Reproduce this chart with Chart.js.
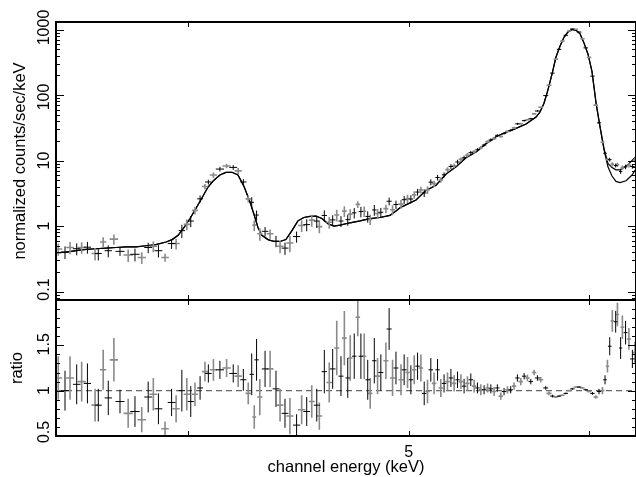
<!DOCTYPE html>
<html>
<head>
<meta charset="utf-8">
<script src="https://cdn.jsdelivr.net/npm/chart.js@4.4.0/dist/chart.umd.min.js"></script>
<style>
  html, body { margin: 0; padding: 0; background: #fff; }
  #wrap { position: relative; width: 636px; height: 477px; }
  #wrap canvas { position: absolute; left: 0; top: 0; }
</style>
</head>
<body>
<div id="wrap">
  <canvas id="spec" width="636" height="477"></canvas>
  <canvas id="ratio" width="636" height="477"></canvas>
</div>
<script>
// --- model curves (keV grid, counts/sec/keV) ---
const modelE = [3.500, 3.536, 3.572, 3.608, 3.644, 3.682, 3.719, 3.757, 3.795, 3.834,
  3.872, 3.912, 3.936, 3.960, 3.984, 4.008, 4.032, 4.057, 4.081, 4.106,
  4.131, 4.156, 4.182, 4.207, 4.233, 4.259, 4.276, 4.293, 4.310, 4.337,
  4.363, 4.390, 4.416, 4.443, 4.470, 4.497, 4.525, 4.552, 4.580, 4.608,
  4.636, 4.664, 4.712, 4.760, 4.808, 4.857, 4.906, 4.936, 4.956, 4.986,
  5.037, 5.088, 5.140, 5.192, 5.245, 5.298, 5.352, 5.406, 5.461, 5.517,
  5.573, 5.630, 5.687, 5.710, 5.733, 5.756, 5.780, 5.803, 5.827, 5.850,
  5.874, 5.898, 5.922, 5.946, 5.970, 5.994, 6.018, 6.043, 6.067, 6.092,
  6.116, 6.141, 6.166, 6.191, 6.229, 6.267, 6.292];
const modelA = [0.39, 0.40, 0.42, 0.44, 0.45, 0.46, 0.47, 0.48, 0.48, 0.50,
  0.52, 0.57, 0.62, 0.72, 0.95, 1.3, 1.85, 2.7, 3.9, 5.0,
  6.0, 6.6, 6.6, 6.0, 4.0, 2.3, 1.5, 0.95, 0.72, 0.62,
  0.58, 0.58, 0.62, 0.85, 1.2, 1.35, 1.4, 1.42, 1.3, 1.08,
  1.0, 1.03, 1.12, 1.2, 1.3, 1.35, 1.45, 1.7, 1.9, 2.1,
  2.5, 3.5, 4.2, 6.2, 8.0, 11, 13.5, 18, 23, 27,
  31, 36, 46, 55, 75, 120, 210, 380, 560, 760,
  920, 1000, 970, 860, 620, 420, 230, 75, 33, 14.5,
  8.0, 5.8, 4.8, 4.6, 4.9, 6.0, 7.5];
const modelB = [0.39, 0.40, 0.42, 0.44, 0.45, 0.46, 0.47, 0.48, 0.48, 0.50,
  0.52, 0.57, 0.62, 0.72, 0.95, 1.3, 1.85, 2.7, 3.9, 5.0,
  6.0, 6.6, 6.6, 6.0, 4.0, 2.3, 1.5, 0.95, 0.72, 0.62,
  0.58, 0.58, 0.62, 0.85, 1.2, 1.35, 1.4, 1.42, 1.3, 1.08,
  1.0, 1.03, 1.12, 1.2, 1.3, 1.35, 1.45, 1.7, 1.9, 2.1,
  2.5, 3.5, 4.2, 6.2, 8.0, 11, 13.5, 18, 23, 27,
  31, 36, 46, 55, 75, 120, 210, 380, 560, 760,
  920, 1000, 970, 860, 620, 420, 230, 75, 33, 15,
  9.0, 7.8, 7.2, 7.2, 8.2, 10, 11.5];

// --- black data group ---
const eBlack = [3.532, 3.574, 3.613, 3.653, 3.690, 3.734, 3.791, 3.842, 3.882, 3.934,
  3.975, 4.011, 4.049, 4.083, 4.131, 4.187, 4.230, 4.266, 4.287, 4.324,
  4.372, 4.412, 4.464, 4.510, 4.556, 4.591, 4.630, 4.669, 4.701, 4.732,
  4.764, 4.797, 4.829, 4.861, 4.902, 4.936, 4.977, 5.011, 5.045, 5.079,
  5.113, 5.148, 5.182, 5.218, 5.253, 5.288, 5.324, 5.360, 5.396, 5.433,
  5.469, 5.506, 5.543, 5.581, 5.619, 5.657, 5.695, 5.743, 5.782, 5.821,
  5.861, 5.900, 5.940, 5.980, 6.021, 6.061, 6.098, 6.127, 6.164, 6.195,
  6.226, 6.269];
const yBlack = [0.40, 0.45, 0.475, 0.38, 0.42, 0.41, 0.37, 0.47, 0.42, 0.54,
  0.85, 1.19, 2.6, 4.7, 7.4, 7.85, 4.7, 2.3, 1.47, 0.83,
  0.59, 0.46, 0.69, 1.05, 1.19, 1.45, 1.24, 1.19, 1.25, 1.59,
  1.66, 1.40, 1.76, 1.62, 2.39, 2.13, 2.52, 2.58, 3.3, 3.2,
  4.67, 5.5, 6.05, 8.1, 9.5, 11.0, 13.2, 14.6, 17.2, 20.6,
  24.2, 25.9, 28.8, 36.3, 40.6, 43.5, 57, 98, 216, 498,
  815, 1020, 915, 525, 194, 37.6, 12.9, 10.3, 8.4, 6.8,
  8.0, 8.1];
const rBlack = [1.00, 1.07, 1.08, 0.84, 0.92, 0.88, 0.77, 0.93, 0.80, 0.87,
  1.00, 0.88, 1.03, 1.19, 1.23, 1.19, 1.12, 1.18, 1.34, 1.24,
  1.02, 0.75, 0.62, 0.77, 0.84, 1.21, 1.24, 1.16, 1.14, 1.38,
  1.38, 1.12, 1.33, 1.20, 1.68, 1.25, 1.23, 1.12, 1.27, 0.97,
  1.23, 1.23, 1.08, 1.14, 1.12, 1.05, 1.12, 1.03, 1.01, 1.02,
  1.03, 0.99, 1.01, 1.14, 1.16, 1.10, 1.14, 1.03, 0.94, 0.94,
  0.97, 1.02, 1.04, 1.01, 0.97, 0.99, 1.12, 1.49, 1.76, 1.47,
  1.64, 1.35];
const erBlack = [0.22, 0.22, 0.22, 0.18, 0.19, 0.13, 0.17, 0.17, 0.17, 0.15,
  0.23, 0.17, 0.13, 0.10, 0.10, 0.10, 0.12, 0.23, 0.23, 0.20,
  0.20, 0.16, 0.12, 0.16, 0.18, 0.24, 0.22, 0.22, 0.22, 0.25,
  0.25, 0.22, 0.25, 0.20, 0.23, 0.18, 0.17, 0.16, 0.15, 0.13,
  0.13, 0.12, 0.10, 0.10, 0.09, 0.08, 0.07, 0.06, 0.05, 0.05,
  0.04, 0.04, 0.04, 0.04, 0.035, 0.03, 0.03, 0.02, 0.015, 0.01,
  0.01, 0.01, 0.01, 0.01, 0.015, 0.03, 0.05, 0.10, 0.12, 0.12,
  0.13, 0.10];

// --- gray data group ---
const eGray = [3.508, 3.550, 3.592, 3.641, 3.671, 3.711, 3.765, 3.817, 3.862, 3.908,
  3.952, 3.995, 4.028, 4.069, 4.104, 4.159, 4.208, 4.251, 4.277, 4.301,
  4.346, 4.390, 4.434, 4.487, 4.533, 4.568, 4.614, 4.649, 4.685, 4.713,
  4.749, 4.780, 4.809, 4.845, 4.886, 4.919, 4.961, 4.994, 5.028, 5.062,
  5.096, 5.130, 5.165, 5.200, 5.235, 5.271, 5.306, 5.342, 5.378, 5.415,
  5.451, 5.488, 5.525, 5.562, 5.600, 5.638, 5.676, 5.714, 5.762, 5.802,
  5.841, 5.880, 5.920, 5.960, 6.000, 6.041, 6.082, 6.113, 6.143, 6.175,
  6.206, 6.247, 6.285];
const yGray = [0.445, 0.47, 0.47, 0.38, 0.57, 0.63, 0.36, 0.33, 0.49, 0.33,
  0.54, 1.06, 1.73, 4.0, 6.0, 8.25, 6.95, 2.6, 1.03, 0.76,
  0.76, 0.49, 0.55, 1.02, 1.23, 0.98, 1.14, 1.47, 1.69, 1.52,
  2.14, 1.68, 1.26, 1.55, 1.84, 1.77, 2.16, 2.62, 2.99, 3.56,
  3.56, 4.43, 5.05, 7.26, 8.3, 10.4, 12.1, 13.6, 15.7, 19.4,
  21.6, 23.3, 27.8, 31.5, 36.5, 42, 51.6, 65, 141, 353,
  665, 950, 1009, 721, 376, 70, 19, 10.4, 8.8, 8.6,
  7.8, 8.5, 10.2];
const rGray = [1.14, 1.14, 1.10, 0.84, 1.23, 1.34, 0.75, 0.68, 0.96, 0.58,
  0.80, 0.96, 0.96, 1.21, 1.23, 1.25, 1.16, 0.97, 0.71, 0.93,
  1.24, 0.84, 0.72, 0.79, 0.88, 0.72, 1.09, 1.47, 1.58, 1.36,
  1.81, 1.38, 0.97, 1.16, 1.33, 1.14, 1.12, 1.20, 1.23, 1.25,
  0.99, 1.08, 1.03, 1.10, 1.08, 1.10, 1.08, 1.05, 1.01, 1.03,
  0.99, 0.94, 1.01, 1.05, 1.10, 1.14, 1.20, 1.12, 0.97, 0.93,
  0.95, 1.00, 1.04, 1.03, 0.99, 0.93, 1.00, 1.27, 1.77, 1.84,
  1.70, 1.57, 1.42];
const erGray = [0.24, 0.24, 0.22, 0.18, 0.22, 0.24, 0.16, 0.14, 0.18, 0.08,
  0.15, 0.18, 0.13, 0.11, 0.12, 0.10, 0.12, 0.12, 0.13, 0.20,
  0.20, 0.18, 0.20, 0.16, 0.18, 0.15, 0.22, 0.30, 0.30, 0.25,
  0.21, 0.25, 0.17, 0.20, 0.20, 0.20, 0.17, 0.17, 0.16, 0.15,
  0.13, 0.12, 0.10, 0.10, 0.09, 0.08, 0.08, 0.07, 0.06, 0.05,
  0.05, 0.04, 0.04, 0.04, 0.04, 0.035, 0.03, 0.03, 0.02, 0.01,
  0.01, 0.01, 0.01, 0.01, 0.01, 0.02, 0.04, 0.07, 0.12, 0.13,
  0.13, 0.12, 0.12];

// axis ranges / ticks
const E_MIN = 3.5, E_MAX = 6.292;
const xTickVals = [4, 5, 6];
const xTickLabels = [[5, '5']];
const specLabels = [[1000, '1000', -2], [100, '100', 2], [10, '10', 0], [1, '1', 0], [0.1, '0.1', -2]];
const ratioLabels = [[1.5, '1.5', -1], [1, '1', 0], [0.5, '0.5', -4]];

const TICK_FONT = '16px "Liberation Sans", Arial, sans-serif';
const TITLE_FONT = '16.5px "Liberation Sans", Arial, sans-serif';
const GRAY = '#8a8a8a';

// horizontal half-width of each channel bin, from its neighbours
function halfWidths(e) {
  return e.map((v, i) => {
    const lo = i > 0 ? e[i - 1] : 2 * v - e[i + 1];
    const hi = i < e.length - 1 ? e[i + 1] : 2 * v - e[i - 1];
    return (hi - lo) / 6;
  });
}

function rotText(ctx, text, x, y, font) {
  ctx.save();
  ctx.font = font;
  ctx.translate(x, y);
  ctx.rotate(-Math.PI / 2);
  ctx.textAlign = 'center';
  ctx.textBaseline = 'alphabetic';
  ctx.fillText(text, 0, 0);
  ctx.restore();
}

const errorBars = {
  id: 'errorBars',
  afterDatasetsDraw(chart, args, opts) {
    const { ctx, chartArea: a, scales: { x, y } } = chart;
    ctx.save();
    ctx.beginPath();
    ctx.rect(a.left, a.top, a.right - a.left, a.bottom - a.top);
    ctx.clip();
    opts.sets.forEach(s => {
      const hw = halfWidths(s.e);
      ctx.strokeStyle = s.color;
      ctx.lineWidth = s.width;
      ctx.beginPath();
      s.e.forEach((e, i) => {
        const v = s.val[i], d = s.err[i];
        const px = x.getPixelForValue(e), py = y.getPixelForValue(v);
        ctx.moveTo(x.getPixelForValue(e - hw[i]), py);
        ctx.lineTo(x.getPixelForValue(e + hw[i]), py);
        ctx.moveTo(px, y.getPixelForValue(v - d));
        ctx.lineTo(px, y.getPixelForValue(v + d));
      });
      ctx.stroke();
    });
    ctx.restore();
  }
};

const frame = {
  id: 'frame',
  afterDraw(chart, args, o) {
    const { ctx, chartArea: a, scales: { x, y } } = chart;
    ctx.save();
    ctx.strokeStyle = '#000';
    ctx.lineWidth = 1;
    ctx.beginPath();
    xTickVals.forEach(v => {
      const px = Math.round(x.getPixelForValue(v)) + 0.5;
      ctx.moveTo(px, a.top); ctx.lineTo(px, a.top + 5);
      ctx.moveTo(px, a.bottom); ctx.lineTo(px, a.bottom - 5);
    });
    o.yTicks.forEach(([v, len]) => {
      const py = Math.round(y.getPixelForValue(v)) + 0.5;
      ctx.moveTo(a.left, py); ctx.lineTo(a.left + len, py);
      ctx.moveTo(a.right, py); ctx.lineTo(a.right - len, py);
    });
    ctx.stroke();
    ctx.lineWidth = 2;
    ctx.strokeRect(a.left, a.top, a.right - a.left, a.bottom - a.top);

    ctx.fillStyle = '#000';
    o.yLabels.forEach(([v, t, off]) => rotText(ctx, t, 48.5, y.getPixelForValue(v) + off, TICK_FONT));
    rotText(ctx, o.title, o.titleX, (a.top + a.bottom) / 2, TITLE_FONT);
    if (o.xTitle) {
      ctx.font = TICK_FONT;
      ctx.textAlign = 'center';
      ctx.textBaseline = 'alphabetic';
      xTickLabels.forEach(([v, t]) => ctx.fillText(t, x.getPixelForValue(v), 457));
      ctx.font = TITLE_FONT;
      ctx.fillText(o.xTitle, (a.left + a.right) / 2, 472);
    }
    ctx.restore();
  }
};

// tick lists for the two panels
const specTicks = [];
for (let p = -2; p <= 3; p++) {
  for (let k = 1; k <= 9; k++) {
    const v = k * Math.pow(10, p);
    if (v >= 0.0742 && v <= 1302) specTicks.push([v, k === 1 ? 8 : 4]);
  }
}
const ratioTicks = [];
for (let k = 5; k <= 20; k++) ratioTicks.push([k / 10, k % 5 === 0 ? 8 : 4]);

const pts = (e, v) => e.map((x, i) => ({ x, y: v[i] }));
const relErr = (val, r, er) => val.map((v, i) => v * er[i] / r[i]);

const xScale = { type: 'logarithmic', min: E_MIN, max: E_MAX, display: false };

new Chart(document.getElementById('spec'), {
  type: 'line',
  data: {
    datasets: [
      { data: pts(modelE, modelB), borderColor: '#000', borderWidth: 1.2, pointRadius: 0, tension: 0 },
      { data: pts(modelE, modelA), borderColor: '#000', borderWidth: 1.2, pointRadius: 0, tension: 0 }
    ]
  },
  options: {
    responsive: false,
    animation: false,
    layout: { padding: { left: 56, right: 0, top: 22, bottom: 177 } },
    scales: {
      x: xScale,
      y: { type: 'logarithmic', min: 0.0742, max: 1302, display: false }
    },
    plugins: {
      legend: { display: false },
      tooltip: { enabled: false },
      errorBars: {
        sets: [
          { e: eGray, val: yGray, err: relErr(yGray, rGray, erGray), color: GRAY, width: 1.6 },
          { e: eBlack, val: yBlack, err: relErr(yBlack, rBlack, erBlack), color: '#000', width: 1 }
        ]
      },
      frame: { yTicks: specTicks, yLabels: specLabels, title: 'normalized counts/sec/keV', titleX: 25 }
    }
  },
  plugins: [errorBars, frame]
});

new Chart(document.getElementById('ratio'), {
  type: 'line',
  data: {
    datasets: [
      { data: [{ x: E_MIN, y: 1 }, { x: E_MAX, y: 1 }], borderColor: '#666', borderWidth: 1.3, borderDash: [6, 4], pointRadius: 0 }
    ]
  },
  options: {
    responsive: false,
    animation: false,
    layout: { padding: { left: 56, right: 0, top: 300, bottom: 41 } },
    scales: {
      x: xScale,
      y: { type: 'linear', min: 0.5, max: 2.0, display: false }
    },
    plugins: {
      legend: { display: false },
      tooltip: { enabled: false },
      errorBars: {
        sets: [
          { e: eGray, val: rGray, err: erGray, color: GRAY, width: 1.6 },
          { e: eBlack, val: rBlack, err: erBlack, color: '#000', width: 1 }
        ]
      },
      frame: { yTicks: ratioTicks, yLabels: ratioLabels, title: 'ratio', titleX: 22, xTitle: 'channel energy (keV)' }
    }
  },
  plugins: [errorBars, frame]
});
</script>
</body>
</html>
